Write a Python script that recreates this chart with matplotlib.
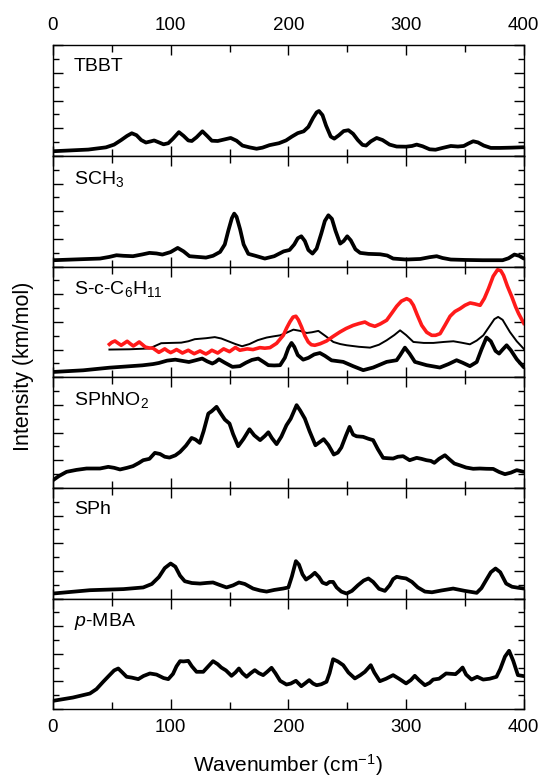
import numpy as np
import matplotlib.pyplot as plt
from matplotlib.ticker import MultipleLocator

plt.rcParams['font.family'] = ['Liberation Sans', 'DejaVu Sans']
plt.rcParams['mathtext.fontset'] = 'custom'
plt.rcParams['mathtext.rm'] = 'Liberation Sans'
plt.rcParams['mathtext.it'] = 'Liberation Sans:italic'

# Spectra: wavenumber (cm-1) and intensity in panel units (0-8)
tbbt_x = [0, 15, 30, 45, 52, 58, 63, 67, 71, 75, 79, 83, 86, 90, 94, 98, 102, 107, 111,
          115, 118, 122, 127, 131, 135, 140, 146, 151, 156, 161, 167, 173, 178, 184, 192,
          198, 203, 208, 213, 217, 221, 224, 226, 229, 232, 236, 239, 243, 247, 251, 255,
          259, 263, 266, 270, 275, 280, 286, 292, 300, 305, 309, 314, 320, 325, 331, 338,
          344, 349, 353, 357, 361, 366, 372, 380, 390, 400]
tbbt_y = [0.34, 0.40, 0.46, 0.62, 0.82, 1.15, 1.45, 1.64, 1.50, 1.15, 0.97, 1.05, 1.12,
          0.98, 0.84, 0.92, 1.25, 1.72, 1.45, 1.12, 1.08, 1.35, 1.78, 1.45, 1.10, 1.08,
          1.20, 1.30, 1.10, 0.75, 0.62, 0.52, 0.60, 0.78, 0.92, 1.12, 1.40, 1.65, 1.78,
          2.10, 2.75, 3.15, 3.25, 2.95, 2.20, 1.40, 1.25, 1.50, 1.80, 1.86, 1.60, 1.15,
          0.80, 0.75, 1.05, 1.30, 1.15, 0.82, 0.68, 0.67, 0.72, 0.82, 0.70, 0.48, 0.45,
          0.58, 0.72, 0.68, 0.72, 0.90, 1.06, 0.98, 0.75, 0.58, 0.58, 0.60, 0.63]

sch3_x = [0, 20, 40, 48, 54, 60, 68, 76, 82, 88, 93, 100, 106, 111, 116, 123, 130, 136,
          142, 146, 149, 152, 154, 156, 159, 162, 166, 172, 180, 188, 196, 201, 205, 208,
          211, 214, 217, 220.5, 224, 228, 231, 234, 237, 240, 244, 247, 250, 253, 257,
          261, 268, 278, 284, 289, 300, 312, 320, 326, 331, 338, 350, 365, 382, 387, 392,
          396, 400]
sch3_y = [0.46, 0.52, 0.58, 0.70, 0.82, 0.78, 0.75, 0.88, 0.99, 0.95, 0.87, 1.05, 1.35,
          1.10, 0.75, 0.70, 0.65, 0.78, 1.06, 1.60, 2.60, 3.50, 3.83, 3.60, 2.70, 1.60,
          0.92, 0.78, 0.58, 0.75, 1.10, 1.20, 1.60, 2.05, 2.19, 1.85, 1.20, 0.94, 1.30,
          2.40, 3.30, 3.71, 3.45, 2.60, 1.66, 1.85, 2.19, 1.90, 1.25, 0.99, 0.92, 0.89,
          0.80, 0.58, 0.51, 0.55, 0.68, 0.75, 0.62, 0.51, 0.48, 0.46, 0.46, 0.60, 0.87,
          0.78, 0.58]

cy_x = [0, 25.7, 48, 76, 85, 90, 97, 104, 110, 115.5, 121, 126.8, 131, 135.4, 138, 141,
        146, 152.5, 158.8, 164, 169, 174.4, 179, 183, 188, 193, 197, 200, 202.7, 205, 208,
        212.6, 217, 222, 226.8, 231, 236.7, 246.6, 255, 263.6, 272, 283.5, 292, 295, 299,
        303, 307.5, 317.4, 328.7, 336, 342.9, 348, 354.2, 360, 364, 368.3, 372, 376, 379,
        382, 385.4, 389, 394, 400]
cy_y = [0.38, 0.50, 0.69, 0.86, 0.95, 1.03, 1.20, 1.27, 1.18, 1.10, 1.22, 1.35, 1.15,
        0.99, 1.10, 1.30, 1.05, 0.75, 0.80, 1.05, 1.25, 1.35, 1.10, 0.87, 0.85, 0.87,
        1.40, 2.10, 2.48, 2.20, 1.60, 1.27, 1.40, 1.65, 1.75, 1.55, 1.22, 1.11, 0.80,
        0.51, 0.70, 1.11, 1.23, 1.60, 2.14, 1.70, 1.11, 0.87, 0.70, 0.95, 1.23, 1.05,
        0.80, 1.10, 2.00, 2.87, 2.60, 1.90, 1.71, 2.00, 2.31, 1.95, 1.30, 0.72]

cy_thin_x = [48, 65, 82, 92, 100, 109, 115, 120.5, 130, 137.5, 143, 149, 155, 160.7, 167,
             174, 181.6, 187, 193, 198, 204.3, 210, 215.6, 220, 225.5, 232, 238.2, 244,
             249.6, 260, 269.4, 277, 283.5, 290, 294.9, 300, 306.2, 315, 323.2, 332, 340.2,
             347, 354.2, 360, 365.6, 371, 375, 378.2, 382, 388.2, 394, 400]
cy_thin_y = [2.00, 2.02, 2.08, 2.46, 2.48, 2.50, 2.60, 2.75, 2.82, 2.90, 2.80, 2.60, 2.40,
             2.24, 2.40, 2.68, 2.87, 2.95, 3.03, 3.20, 3.44, 3.35, 3.20, 3.25, 3.35, 2.95,
             2.55, 2.40, 2.31, 2.20, 2.14, 2.35, 2.67, 3.05, 3.39, 3.05, 2.55, 2.48, 2.48,
             2.55, 2.60, 2.50, 2.38, 2.65, 3.03, 3.70, 4.20, 4.36, 4.15, 3.27, 2.60, 2.05]

cy_red_x = [48, 50, 52.7, 55.5, 58, 60.5, 63.1, 65.7, 68.3, 70.8, 73.3, 76, 78.5, 81.5,
            85, 87.5, 90, 92.5, 95, 97.5, 100, 102.5, 105, 107.5, 110, 112.5, 115, 117.5,
            120, 122.5, 125, 127.5, 130, 132.5, 135, 137.5, 140, 142.5, 145, 147.5, 150,
            152.5, 155, 158.8, 165, 170, 175.8, 180, 184.4, 190, 195.7, 198.5, 201.3, 204,
            206.4, 208.5, 211.2, 214, 216.9, 219.5, 222.5, 227, 232.4, 238, 243.8, 249,
            255.1, 260, 265, 269, 273.5, 278, 283.5, 288, 292, 296, 300.5, 303.5, 306.2,
            309.5, 313.3, 317.5, 321.8, 325, 328.9, 333, 337.4, 341.5, 345.9, 350, 354.4,
            358.5, 362.9, 366.5, 370, 374, 377.7, 380.5, 382.8, 386, 389.9, 393, 395.6, 400]
cy_red_y = [2.38, 2.52, 2.62, 2.45, 2.31, 2.45, 2.60, 2.42, 2.26, 2.40, 2.55, 2.36, 2.18,
            2.12, 2.10, 1.95, 1.80, 1.92, 2.05, 1.90, 1.78, 1.88, 2.00, 1.88, 1.75, 1.85,
            1.95, 1.82, 1.70, 1.80, 1.90, 1.78, 1.68, 1.80, 1.95, 1.85, 1.75, 1.90, 2.05,
            1.95, 1.85, 2.00, 2.15, 1.95, 2.05, 2.00, 2.14, 2.10, 2.14, 2.45, 3.03, 3.55,
            4.00, 4.35, 4.41, 4.15, 3.63, 3.00, 2.55, 2.35, 2.31, 2.42, 2.62, 2.95, 3.27,
            3.52, 3.75, 3.88, 3.99, 3.80, 3.68, 3.85, 4.12, 4.65, 5.13, 5.50, 5.68, 5.55,
            5.20, 4.50, 3.75, 3.25, 3.03, 3.03, 3.15, 3.75, 4.41, 4.75, 4.96, 5.20, 5.37,
            5.30, 5.20, 5.70, 6.40, 7.30, 7.77, 7.70, 7.36, 6.60, 5.80, 5.10, 4.60, 3.90]

no2_x = [0, 5, 11.6, 20, 28.6, 40, 47, 52, 57, 63, 68, 73, 76.7, 82, 86.6, 91, 95, 99,
         104, 108, 113, 117.8, 121, 124.8, 128, 132, 135, 139, 142, 146, 150, 153, 157.4,
         162, 167, 171, 176, 180, 183, 186, 190, 194, 198.4, 202, 207, 210, 214, 218, 223,
         230, 234, 238.6, 242, 245, 249, 252, 255, 257.9, 263.5, 268, 272, 276, 280.5,
         285, 289, 293, 297.5, 303, 309, 313, 317.3, 321, 324, 328, 333, 337, 341, 346,
         351, 357, 362.6, 368, 374, 379, 384, 389, 394, 400]
no2_y = [0.55, 0.85, 1.16, 1.30, 1.40, 1.40, 1.52, 1.45, 1.33, 1.45, 1.57, 1.80, 2.00,
         2.10, 2.53, 2.45, 2.25, 2.19, 2.35, 2.60, 3.05, 3.61, 3.50, 3.25, 4.10, 5.37,
         5.55, 5.86, 5.45, 4.94, 4.65, 3.90, 3.01, 3.55, 4.24, 3.80, 3.45, 3.75, 4.02,
         3.60, 3.16, 3.70, 4.53, 5.00, 5.98, 5.60, 5.01, 4.10, 3.08, 3.52, 3.10, 2.41,
         2.55, 2.92, 3.80, 4.41, 3.85, 3.73, 3.69, 3.55, 3.45, 2.80, 2.17, 2.14, 2.12,
         2.25, 2.29, 2.00, 2.17, 2.10, 2.00, 1.95, 1.81, 2.10, 2.36, 2.05, 1.76, 1.62,
         1.47, 1.38, 1.40, 1.38, 1.37, 1.15, 0.99, 1.10, 1.28, 1.16]

sph_x = [0, 31.4, 60, 76.7, 84, 90, 95, 100, 104, 108, 112, 118, 125, 131, 136, 141,
         147.5, 153, 158, 163, 170, 176, 181.5, 188, 195.6, 200, 203, 206.4, 209, 212, 215,
         219, 222.5, 226, 229, 232.4, 235, 238, 241, 245, 249.4, 254, 259, 264, 268, 272,
         277, 282, 286, 289, 292, 296, 300, 305, 310, 316, 322, 330, 340, 350, 360, 364,
         368, 372, 376, 380, 385, 390, 395, 400]
sph_y = [0.36, 0.60, 0.68, 0.80, 1.05, 1.55, 2.20, 2.53, 2.30, 1.65, 1.25, 1.12, 1.08,
         1.13, 1.16, 1.00, 0.80, 0.95, 1.16, 1.05, 0.72, 0.58, 0.50, 0.62, 0.72, 0.80,
         1.60, 2.70, 2.45, 1.75, 1.37, 1.60, 1.86, 1.55, 1.15, 1.04, 1.20, 1.20, 0.80,
         0.50, 0.36, 0.55, 0.95, 1.30, 1.45, 1.20, 0.70, 0.55, 0.95, 1.40, 1.57, 1.50,
         1.45, 1.20, 0.80, 0.50, 0.45, 0.58, 0.72, 0.55, 0.41, 0.75, 1.33, 1.90, 2.17,
         1.90, 1.08, 0.85, 0.78, 0.72]

mba_x = [0, 17, 31.4, 37, 42.7, 48, 52, 55.5, 59, 62.6, 67, 72.5, 77, 82.4, 88, 94, 98,
         102, 105, 108, 111, 115, 118, 122, 127.7, 132, 136, 140, 143, 147, 151.7, 155,
         158, 161, 164.5, 168, 171.5, 175, 178.6, 182, 185.7, 189, 193, 198.4, 202, 206.4,
         211, 214, 217.7, 221, 224, 228, 232.4, 235, 238, 242, 246.6, 251, 256.5, 261,
         265, 270, 273, 277.7, 283, 289, 294, 300, 304, 307.4, 311, 316, 320, 323, 328,
         334, 342, 345, 348, 351, 355.6, 360.4, 365.5, 371, 376.8, 380, 384, 387.5, 391,
         395, 400]
mba_y = [0.60, 0.84, 1.13, 1.45, 1.98, 2.45, 2.80, 2.94, 2.65, 2.34, 2.28, 2.17, 2.40,
         2.58, 2.50, 2.25, 2.17, 2.55, 3.10, 3.47, 3.45, 3.49, 3.10, 2.70, 2.70, 3.10,
         3.47, 3.25, 3.01, 2.80, 2.41, 2.65, 2.94, 2.60, 2.34, 2.60, 2.82, 2.60, 2.46,
         2.70, 2.99, 2.60, 2.05, 1.78, 1.85, 2.05, 1.66, 1.85, 2.10, 1.85, 1.73, 1.80,
         1.98, 2.60, 3.61, 3.45, 3.18, 2.65, 2.22, 2.45, 2.70, 3.18, 2.65, 2.02, 2.20,
         2.46, 2.20, 1.86, 2.10, 2.41, 2.10, 1.73, 1.90, 2.14, 2.20, 2.58, 2.53, 2.75,
         3.01, 2.50, 2.14, 2.34, 2.14, 2.20, 2.34, 2.90, 3.80, 4.22, 3.50, 2.46, 2.39]

labels = ['TBBT', 'SCH$_3$', 'S-c-C$_6$H$_{11}$', 'SPhNO$_2$', 'SPh', '$p$-MBA']
series = [(tbbt_x, tbbt_y), (sch3_x, sch3_y), (cy_x, cy_y),
          (no2_x, no2_y), (sph_x, sph_y), (mba_x, mba_y)]

fig, axes = plt.subplots(6, 1, sharex=True, figsize=(5.4, 7.81), dpi=100)
fig.subplots_adjust(left=0.098, right=0.970, top=0.942, bottom=0.092, hspace=0)

for ax, label, (x, y) in zip(axes, labels, series):
    ax.plot(x, y, color='black', lw=2.7, solid_joinstyle='round', solid_capstyle='round')
    ax.set_xlim(0, 400)
    ax.set_ylim(0, 8)
    ax.xaxis.set_major_locator(MultipleLocator(100))
    ax.xaxis.set_minor_locator(MultipleLocator(50))
    ax.yaxis.set_major_locator(MultipleLocator(2))
    ax.yaxis.set_minor_locator(MultipleLocator(1))
    ax.tick_params(which='both', direction='in', top=True, bottom=True,
                   left=True, right=True, labelleft=False, width=1.0)
    ax.tick_params(axis='x', which='major', length=7)
    ax.tick_params(axis='x', which='minor', length=5)
    ax.tick_params(axis='y', which='major', length=7)
    ax.tick_params(axis='y', which='minor', length=4)
    for sp in ax.spines.values():
        sp.set_linewidth(1.0)
    ax.text(0.045, 0.885, label, transform=ax.transAxes, ha='left', va='top',
            fontsize=14)

# extra traces in the cyclohexyl panel
axes[2].plot(cy_thin_x, cy_thin_y, color='black', lw=1.4, solid_joinstyle='round')
axes[2].plot(cy_red_x, cy_red_y, color='#ff1a1a', lw=2.6, solid_joinstyle='round')

for ax in axes[:-1]:
    ax.tick_params(labelbottom=False)
axes[0].tick_params(labeltop=True, labelsize=13.5, pad=8)
axes[-1].tick_params(labelbottom=True, labelsize=13.5, pad=7)

axes[-1].set_xlabel('Wavenumber (cm$^{-1}$)', fontsize=15, labelpad=12)
fig.text(0.043, 0.531, 'Intensity (km/mol)', rotation=90, ha='center', va='center',
         fontsize=15.5)

fig.savefig('out.png', dpi=100)
